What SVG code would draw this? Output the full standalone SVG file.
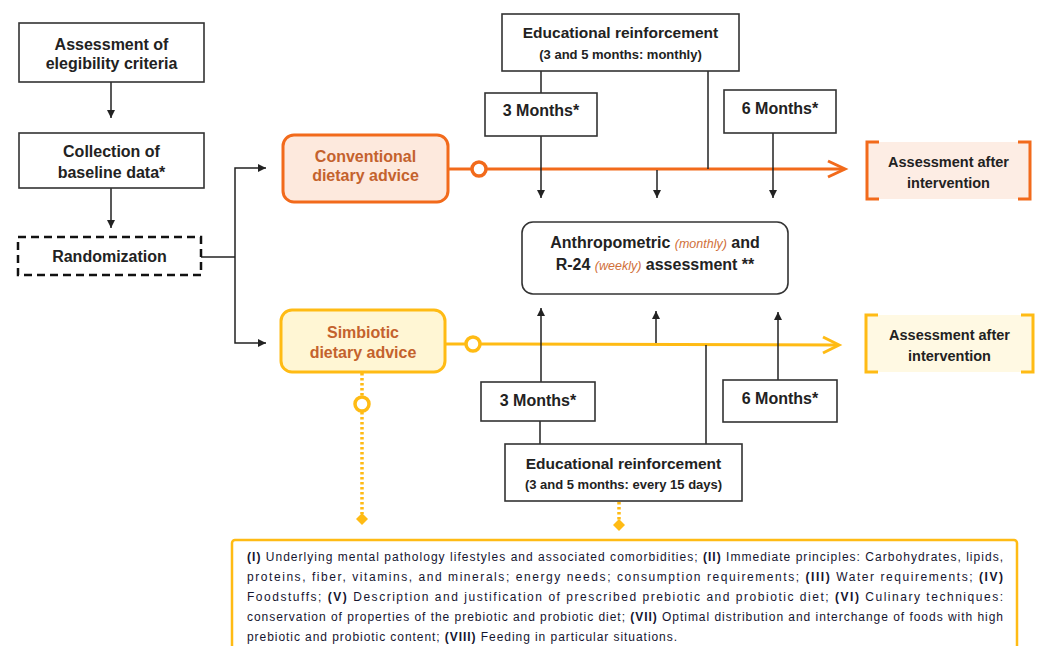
<svg xmlns="http://www.w3.org/2000/svg" width="1040" height="646" viewBox="0 0 1040 646">
<style>
  text { font-family: "Liberation Sans", Arial, sans-serif; fill: #222; }
  .t { font-size: 16px; font-weight: bold; text-anchor: middle; }
  .te { font-size: 15.5px; font-weight: bold; text-anchor: middle; }
  .ts { font-size: 13px; font-weight: bold; text-anchor: middle; }
  .ta { font-size: 14.5px; font-weight: bold; text-anchor: middle; }
  .tc { font-size: 16px; font-weight: bold; text-anchor: middle; fill: #c4622d; }
  .it { font-size: 12.5px; font-weight: normal; font-style: italic; fill: #d0703a; }
  .box { fill: #fff; stroke: #333; stroke-width: 1.6; }
  .ln { fill: none; stroke: #222; stroke-width: 1.5; }
  .or { fill: none; stroke: #f26a1b; stroke-width: 3; }
  .ye { fill: none; stroke: #ffbb14; stroke-width: 3; }
  .dot { fill: none; stroke: #ffbb14; stroke-width: 3.5; stroke-dasharray: 2.5 2.5; }
  .body { font-size: 12px; fill: #151530; }
  .b { font-weight: bold; }
</style>
<defs>
  <marker id="ah" viewBox="0 0 10 10" refX="10" refY="5" markerWidth="8" markerHeight="8" markerUnits="userSpaceOnUse" orient="auto">
    <path d="M0,0 L10,5 L0,10 z" fill="#222"/>
  </marker>
</defs>

<g id="connectors">
  <line class="ln" x1="111" y1="82" x2="111" y2="118" marker-end="url(#ah)"/>
  <line class="ln" x1="111" y1="188" x2="111" y2="228" marker-end="url(#ah)"/>
  <polyline class="ln" points="201,257 235,257"/>
  <polyline class="ln" points="235,257 235,168 266,168" marker-end="url(#ah)"/>
  <polyline class="ln" points="235,257 235,343 266,343" marker-end="url(#ah)"/>
  <!-- orange timeline -->
  <line class="or" x1="448" y1="169" x2="472" y2="169"/>
  <line class="or" x1="486" y1="169" x2="844" y2="169"/>
  <polyline class="or" points="828,161 845,169 828,177"/>
  <!-- yellow timeline -->
  <line class="ye" x1="445" y1="344" x2="466" y2="344"/>
  <line class="ye" x1="480" y1="344" x2="838" y2="345"/>
  <polyline class="ye" points="823,337 839,345 823,353"/>
  <!-- top connectors -->
  <line class="ln" x1="541" y1="71" x2="541" y2="93"/>
  <line class="ln" x1="708" y1="71" x2="708" y2="169"/>
  <line class="ln" x1="541" y1="136" x2="541" y2="198" marker-end="url(#ah)"/>
  <line class="ln" x1="657" y1="170" x2="657" y2="198" marker-end="url(#ah)"/>
  <line class="ln" x1="773" y1="133" x2="773" y2="198" marker-end="url(#ah)"/>
  <!-- bottom connectors -->
  <line class="ln" x1="541" y1="382" x2="541" y2="308" marker-end="url(#ah)"/>
  <line class="ln" x1="656" y1="343" x2="656" y2="311" marker-end="url(#ah)"/>
  <line class="ln" x1="778" y1="380" x2="778" y2="312" marker-end="url(#ah)"/>
  <line class="ln" x1="540" y1="421" x2="540" y2="444"/>
  <line class="ln" x1="706" y1="345" x2="706" y2="444"/>
  <!-- dotted -->
  <line class="dot" x1="362" y1="373" x2="362" y2="396"/>
  <line class="dot" x1="362" y1="412" x2="362" y2="514"/>
  <line class="dot" x1="619" y1="502" x2="619" y2="520"/>
</g>

<g id="n-elig">
  <rect class="box" x="19" y="23" width="185" height="59"/>
  <text class="t" x="111.5" y="50">Assessment of</text>
  <text class="t" x="111.5" y="69">elegibility criteria</text>
</g>
<g id="n-baseline">
  <rect class="box" x="19" y="133" width="185" height="55"/>
  <text class="t" x="111.5" y="157">Collection of</text>
  <text class="t" x="111.5" y="178">baseline data*</text>
</g>
<g id="n-random">
  <rect x="18" y="237" width="183" height="38" fill="#fff" stroke="#111" stroke-width="2.5" stroke-dasharray="8 5"/>
  <text class="t" x="109.5" y="262">Randomization</text>
</g>

<g id="n-conv">
  <rect x="283" y="135" width="165" height="67" rx="11" fill="#fde9dd" stroke="#f26a1b" stroke-width="3"/>
  <text class="tc" x="365.5" y="162">Conventional</text>
  <text class="tc" x="365.5" y="181">dietary advice</text>
  <circle cx="479" cy="169" r="7" fill="#fff" stroke="#f26a1b" stroke-width="3.5"/>
</g>
<g id="n-simb">
  <rect x="281" y="310" width="164" height="62" rx="11" fill="#fff6d4" stroke="#ffbb14" stroke-width="3"/>
  <text class="tc" x="363" y="338">Simbiotic</text>
  <text class="tc" x="363" y="358">dietary advice</text>
  <circle cx="473" cy="344" r="7" fill="#fff" stroke="#ffbb14" stroke-width="3.5"/>
  <circle cx="362" cy="404" r="7" fill="#fff" stroke="#ffbb14" stroke-width="3.5"/>
  <path d="M362,513 L368,519 L362,525 L356,519 z" fill="#ffbb14"/>
</g>

<g id="n-ed-top">
  <rect class="box" x="502" y="14" width="237" height="57"/>
  <text class="te" x="620.5" y="38">Educational reinforcement</text>
  <text class="ts" x="620.5" y="59">(3 and 5 months: monthly)</text>
</g>
<g id="n-3m-top">
  <rect class="box" x="485" y="93" width="112" height="43"/>
  <text class="t" x="541" y="116">3 Months*</text>
</g>
<g id="n-6m-top">
  <rect class="box" x="724" y="90" width="112" height="43"/>
  <text class="t" x="780" y="114">6 Months*</text>
</g>

<g id="n-anthro">
  <rect x="522" y="222" width="266" height="72" rx="11" fill="#fff" stroke="#333" stroke-width="1.6"/>
  <text class="t" x="655" y="248">Anthropometric <tspan class="it">(monthly)</tspan> and</text>
  <text class="t" x="655" y="270">R-24 <tspan class="it">(weekly)</tspan> assessment **</text>
</g>

<g id="n-after-conv">
  <rect x="867" y="142" width="163" height="57" fill="#fdede4"/>
  <path d="M879,142 H867 V199 H879 M1018,142 H1030 V199 H1018" fill="none" stroke="#f26a1b" stroke-width="3"/>
  <text class="ta" x="948.5" y="167">Assessment after</text>
  <text class="ta" x="948.5" y="188">intervention</text>
</g>
<g id="n-after-simb">
  <rect x="866" y="315" width="167" height="57" fill="#fff9e3"/>
  <path d="M878,315 H866 V372 H878 M1021,315 H1033 V372 H1021" fill="none" stroke="#ffbb14" stroke-width="3"/>
  <text class="ta" x="949.5" y="340">Assessment after</text>
  <text class="ta" x="949.5" y="361">intervention</text>
</g>

<g id="n-3m-bot">
  <rect class="box" x="481" y="382" width="114" height="39"/>
  <text class="t" x="538" y="406">3 Months*</text>
</g>
<g id="n-6m-bot">
  <rect class="box" x="723" y="380" width="114" height="42"/>
  <text class="t" x="780" y="404">6 Months*</text>
</g>
<g id="n-ed-bot">
  <rect class="box" x="505" y="444" width="237" height="57"/>
  <text class="te" x="623.5" y="469">Educational reinforcement</text>
  <text class="ts" x="623.5" y="489">(3 and 5 months: every 15 days)</text>
  <path d="M619,519 L625,525 L619,531 L613,525 z" fill="#ffbb14"/>
</g>

<g id="n-content">
  <rect x="232" y="540" width="785" height="130" rx="3" fill="#fff" stroke="#ffbb14" stroke-width="2.5"/>
  <text class="body" x="247" y="561" textLength="756" lengthAdjust="spacing"><tspan class="b">(I)</tspan> Underlying mental pathology lifestyles and associated comorbidities; <tspan class="b">(II)</tspan> Immediate principles: Carbohydrates, lipids,</text>
  <text class="body" x="247" y="581" textLength="756" lengthAdjust="spacing">proteins, fiber, vitamins, and minerals; energy needs; consumption requirements; <tspan class="b">(III)</tspan> Water requirements; <tspan class="b">(IV)</tspan></text>
  <text class="body" x="247" y="601" textLength="756" lengthAdjust="spacing">Foodstuffs; <tspan class="b">(V)</tspan> Description and justification of prescribed prebiotic and probiotic diet; <tspan class="b">(VI)</tspan> Culinary techniques:</text>
  <text class="body" x="247" y="621" textLength="756" lengthAdjust="spacing">conservation of properties of the prebiotic and probiotic diet; <tspan class="b">(VII)</tspan> Optimal distribution and interchange of foods with high</text>
  <text class="body" x="247" y="641" textLength="430" lengthAdjust="spacing">prebiotic and probiotic content; <tspan class="b">(VIII)</tspan> Feeding in particular situations.</text>
</g>
</svg>
